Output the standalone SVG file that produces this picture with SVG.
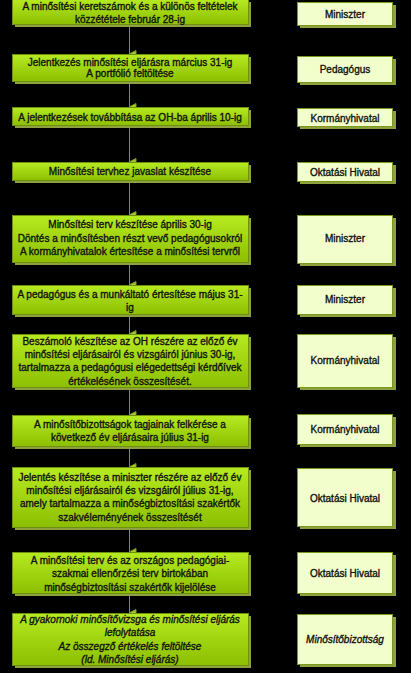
<svg xmlns="http://www.w3.org/2000/svg" width="411" height="673" viewBox="0 0 411 673">
<defs>
<linearGradient id="g" x1="0" y1="0" x2="0" y2="1">
<stop offset="0" stop-color="#b6ea20"/>
<stop offset="1" stop-color="#8cbf00"/>
</linearGradient>
<marker id="ar" markerWidth="8" markerHeight="8" refX="4" refY="7" orient="auto" markerUnits="userSpaceOnUse" viewBox="0 0 8 8">
<path d="M0.5,0.5 L7.5,0.5 L4,7.5 Z" fill="#a8cc30" stroke="#7a9a18" stroke-width="1"/>
</marker>
<style>
.sh{fill:#8ea040}
.b{fill:url(#g);stroke:#6f8f10;stroke-width:1}
.r{fill:#f2ffcc;stroke:#789a18;stroke-width:1}
text{font-family:"Liberation Sans",Arial,sans-serif;font-size:10px;fill:#111;stroke:#111;stroke-width:0.35;text-anchor:middle;dominant-baseline:central}
.i{font-style:italic}
.c line{stroke:#7a9a18;stroke-width:1}
</style>
</defs>
<rect width="411" height="673" fill="#000"/>
<g class="c">
<line x1="129.5" y1="24" x2="129.5" y2="54" marker-end="url(#ar)"/>
<line x1="129.5" y1="81" x2="129.5" y2="107" marker-end="url(#ar)"/>
<line x1="129.5" y1="125" x2="129.5" y2="162" marker-end="url(#ar)"/>
<line x1="129.5" y1="180" x2="129.5" y2="215" marker-end="url(#ar)"/>
<line x1="129.5" y1="262" x2="129.5" y2="285" marker-end="url(#ar)"/>
<line x1="129.5" y1="314" x2="129.5" y2="334" marker-end="url(#ar)"/>
<line x1="129.5" y1="387" x2="129.5" y2="415" marker-end="url(#ar)"/>
<line x1="129.5" y1="446" x2="129.5" y2="467" marker-end="url(#ar)"/>
<line x1="129.5" y1="527" x2="129.5" y2="552" marker-end="url(#ar)"/>
<line x1="129.5" y1="593" x2="129.5" y2="613" marker-end="url(#ar)"/>
</g>
<g id="n1"><rect class="sh" x="15" y="2" width="236" height="25"/><rect class="b" x="12.5" y="-0.5" width="236" height="25"/><text x="130" y="6">A minősítési keretszámok és a különös feltételek</text><text x="130" y="19">közzététele február 28-ig</text></g>
<g id="r1"><rect class="sh" x="300" y="5" width="96" height="23"/><rect class="r" x="297.5" y="2.5" width="95" height="23"/><text x="345" y="14">Miniszter</text></g>
<g id="n2"><rect class="sh" x="15" y="57" width="236" height="27"/><rect class="b" x="12.5" y="54.5" width="236" height="27"/><text x="130" y="62">Jelentkezés minősítési eljárásra március 31-ig</text><text x="130" y="73.5">A portfólió feltöltése</text></g>
<g id="r2"><rect class="sh" x="300" y="59" width="96" height="26"/><rect class="r" x="297.5" y="56.5" width="95" height="26"/><text x="345" y="69">Pedagógus</text></g>
<g id="n3"><rect class="sh" x="15" y="110" width="236" height="18"/><rect class="b" x="12.5" y="107.5" width="236" height="18"/><text x="130" y="117">A jelentkezések továbbítása az OH-ba április 10-ig</text></g>
<g id="r3"><rect class="sh" x="300" y="111" width="96" height="18"/><rect class="r" x="297.5" y="108.5" width="95" height="18"/><text x="345" y="118">Kormányhivatal</text></g>
<g id="n4"><rect class="sh" x="15" y="165" width="236" height="18"/><rect class="b" x="12.5" y="162.5" width="236" height="18"/><text x="130" y="171">Minősítési tervhez javaslat készítése</text></g>
<g id="r4"><rect class="sh" x="300" y="165" width="96" height="19"/><rect class="r" x="297.5" y="162.5" width="95" height="19"/><text x="345" y="172">Oktatási Hivatal</text></g>
<g id="n5"><rect class="sh" x="15" y="218" width="236" height="47"/><rect class="b" x="12.5" y="215.5" width="236" height="47"/><text x="130" y="224.5">Minősítési terv készítése április 30-ig</text><text x="130" y="238">Döntés a minősítésben részt vevő pedagógusokról</text><text x="130" y="251.5">A kormányhivatalok értesítése a minősítési tervről</text></g>
<g id="r5"><rect class="sh" x="300" y="218" width="96" height="48"/><rect class="r" x="297.5" y="215.5" width="95" height="48"/><text x="345" y="238.5">Miniszter</text></g>
<g id="n6"><rect class="sh" x="15" y="288" width="236" height="29"/><rect class="b" x="12.5" y="285.5" width="236" height="29"/><text x="130" y="294">A pedagógus és a munkáltató értesítése május 31-</text><text x="130" y="307">ig</text></g>
<g id="r6"><rect class="sh" x="300" y="288" width="96" height="29"/><rect class="r" x="297.5" y="285.5" width="95" height="29"/><text x="345" y="299.5">Miniszter</text></g>
<g id="n7"><rect class="sh" x="15" y="337" width="236" height="53"/><rect class="b" x="12.5" y="334.5" width="236" height="53"/><text x="130" y="341">Beszámoló készítése az OH részére az előző év</text><text x="130" y="354.5">minősítési eljárásairól és vizsgáiról június 30-ig,</text><text x="130" y="367.5">tartalmazza a pedagógusi elégedettségi kérdőívek</text><text x="130" y="381">értékelésének összesítését.</text></g>
<g id="r7"><rect class="sh" x="300" y="337" width="96" height="53"/><rect class="r" x="297.5" y="334.5" width="95" height="53"/><text x="345" y="360">Kormányhivatal</text></g>
<g id="n8"><rect class="sh" x="15" y="418" width="236" height="31"/><rect class="b" x="12.5" y="415.5" width="236" height="31"/><text x="130" y="424.5">A minősítőbizottságok tagjainak felkérése a</text><text x="130" y="437">következő év eljárásaira július 31-ig</text></g>
<g id="r8"><rect class="sh" x="300" y="417" width="96" height="30"/><rect class="r" x="297.5" y="414.5" width="95" height="30"/><text x="345" y="429.5">Kormányhivatal</text></g>
<g id="n9"><rect class="sh" x="15" y="470" width="236" height="60"/><rect class="b" x="12.5" y="467.5" width="236" height="60"/><text x="130" y="477">Jelentés készítése a miniszter részére az előző év</text><text x="130" y="490">minősítési eljárásairól és vizsgáiról július 31-ig,</text><text x="130" y="503.5">amely tartalmazza a minőségbiztosítási szakértők</text><text x="130" y="517">szakvéleményének összesítését</text></g>
<g id="r9"><rect class="sh" x="300" y="471" width="96" height="58"/><rect class="r" x="297.5" y="468.5" width="95" height="58"/><text x="345" y="498">Oktatási Hivatal</text></g>
<g id="n10"><rect class="sh" x="15" y="555" width="236" height="41"/><rect class="b" x="12.5" y="552.5" width="236" height="41"/><text x="130" y="560">A minősítési terv és az országos pedagógiai-</text><text x="130" y="573.5">szakmai ellenőrzési terv birtokában</text><text x="130" y="587">minőségbiztosítási szakértők kijelölése</text></g>
<g id="r10"><rect class="sh" x="300" y="555" width="96" height="41"/><rect class="r" x="297.5" y="552.5" width="95" height="41"/><text x="345" y="573">Oktatási Hivatal</text></g>
<g id="n11"><rect class="sh" x="15" y="616" width="236" height="52"/><rect class="b" x="12.5" y="613.5" width="236" height="52"/><text class="i" x="130" y="619.5">A gyakornoki minősítővizsga és minősítési eljárás</text><text class="i" x="130" y="632.5">lefolytatása</text><text class="i" x="130" y="646">Az összegző értékelés feltöltése</text><text class="i" x="130" y="659">(ld. Minősítési eljárás)</text></g>
<g id="r11"><rect class="sh" x="300" y="617" width="96" height="50"/><rect class="r" x="297.5" y="614.5" width="95" height="50"/><text class="i" x="345" y="639">Minősítőbizottság</text></g>
</svg>
